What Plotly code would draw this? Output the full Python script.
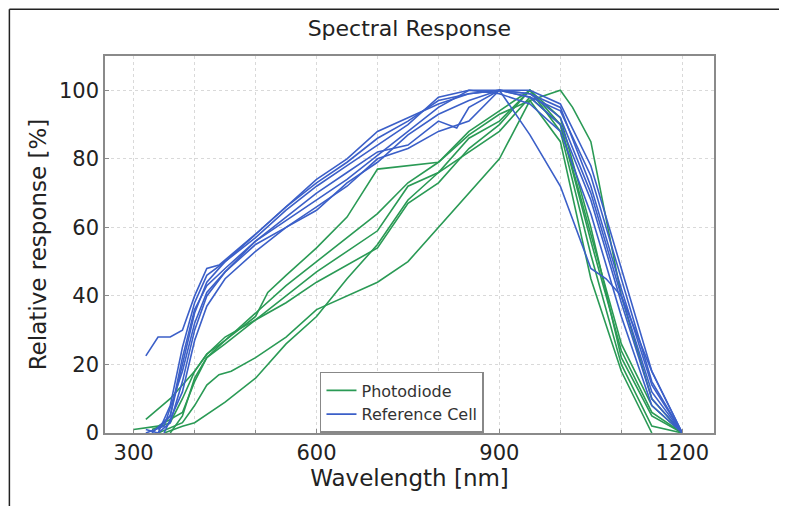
import plotly.graph_objects as go

photodiode_wl = [
    [330, 360, 380, 400, 420, 450, 500, 520, 550, 600, 650, 700, 800, 850, 900, 950, 1000, 1050, 1100, 1150, 1200],
    [300, 340, 380, 400, 420, 450, 500, 550, 600, 650, 700, 750, 800, 850, 900, 950, 1000, 1050, 1100, 1150, 1200],
    [320, 360, 400, 420, 450, 500, 550, 600, 650, 700, 750, 800, 850, 900, 950, 1000, 1050, 1100, 1150, 1200],
    [340, 380, 400, 420, 440, 460, 500, 550, 600, 650, 700, 750, 800, 850, 900, 950, 1000, 1050, 1100, 1150],
    [350, 380, 400, 450, 500, 550, 600, 650, 700, 750, 800, 850, 900, 950, 1000, 1050, 1100, 1150, 1200],
    [360, 380, 400, 420, 450, 500, 550, 600, 650, 700, 750, 800, 850, 900, 950, 1000, 1020, 1050, 1100, 1150, 1200],
]
photodiode_resp = [
    [1, 3, 10, 18, 23, 27, 34, 41, 46, 54, 63, 77, 79, 88, 94, 100, 92, 60, 22, 5, 0],
    [1, 2, 6, 15, 22, 26, 33, 40, 47, 53, 59, 72, 76, 86, 91, 100, 90, 56, 24, 6, 0],
    [4, 10, 18, 23, 28, 33, 38, 44, 49, 54, 67, 73, 83, 90, 100, 88, 52, 20, 2, 0],
    [0, 3, 8, 14, 17, 18, 22, 28, 36, 40, 44, 50, 60, 70, 80, 97, 85, 45, 18, 0],
    [0, 2, 3, 9, 16, 26, 34, 45, 55, 68, 76, 82, 88, 98, 90, 58, 26, 8, 0],
    [0, 5, 16, 22, 27, 35, 43, 50, 57, 64, 73, 79, 87, 93, 97, 100, 95, 85, 40, 10, 0],
]

refcell_wl = [
    [320, 340, 360, 380, 400, 420, 440, 500, 550, 600, 650, 700, 750, 800, 850, 900, 950, 1000, 1050, 1075, 1100, 1150, 1200],
    [320, 340, 360, 380, 400, 420, 450, 500, 550, 600, 650, 700, 750, 800, 850, 900, 950, 1000, 1050, 1100, 1150, 1200],
    [330, 360, 380, 400, 420, 450, 500, 550, 600, 650, 700, 750, 800, 850, 900, 950, 1000, 1050, 1100, 1150, 1200],
    [340, 360, 380, 400, 420, 450, 500, 550, 600, 650, 700, 750, 800, 830, 850, 900, 950, 1000, 1050, 1100, 1150, 1200],
    [350, 380, 400, 420, 450, 500, 550, 600, 650, 700, 750, 800, 850, 900, 950, 1000, 1050, 1100, 1150, 1200],
    [340, 360, 380, 400, 420, 450, 500, 550, 600, 650, 700, 750, 800, 850, 900, 950, 1000, 1050, 1100, 1150, 1200],
    [320, 350, 380, 400, 420, 450, 500, 550, 600, 650, 700, 750, 800, 850, 900, 950, 1000, 1050, 1100, 1150, 1200],
]
refcell_resp = [
    [22.5, 28, 28, 30, 40, 48, 49, 58, 66, 73, 79, 86, 91, 97, 99, 100, 87, 72, 48, 45, 40, 18, 0],
    [1, 0, 8, 25, 38, 46, 50, 57, 65, 72, 78, 84, 90, 98, 100, 100, 99, 92, 70, 40, 12, 0],
    [0, 5, 20, 35, 44, 50, 58, 66, 74, 80, 88, 92, 96, 99, 100, 98, 94, 75, 45, 15, 0],
    [0, 3, 15, 30, 40, 47, 56, 63, 70, 76, 82, 84, 91, 89, 95, 100, 99, 95, 72, 42, 14, 0],
    [0, 12, 27, 37, 45, 53, 60, 65, 73, 79, 87, 93, 97, 100, 98, 90, 68, 38, 10, 0],
    [1, 5, 22, 36, 43, 48, 56, 62, 68, 74, 81, 88, 95, 100, 99, 96, 88, 64, 34, 8, 0],
    [0, 2, 18, 32, 41, 47, 55, 60, 66, 72, 80, 83, 88, 91, 100, 100, 96, 78, 48, 18, 0],
]

green = '#2a9a55'
blue = '#3b5fc8'
font = 'DejaVu Sans'

fig = go.Figure()
for i in range(len(photodiode_wl)):
    fig.add_trace(go.Scatter(x=photodiode_wl[i], y=photodiode_resp[i], mode='lines',
                             line=dict(color=green, width=1.6), name='Photodiode',
                             legendgroup='pd', showlegend=(i == 0)))
for i in range(len(refcell_wl)):
    fig.add_trace(go.Scatter(x=refcell_wl[i], y=refcell_resp[i], mode='lines',
                             line=dict(color=blue, width=1.6), name='Reference Cell',
                             legendgroup='rc', showlegend=(i == 0)))

axisline = dict(showline=True, linecolor='#8a8a8a', linewidth=1.5, mirror=True,
                gridcolor='#d9d9d9', griddash='dot', gridwidth=1, zeroline=False,
                ticks='inside', ticklen=4, tickcolor='#8a8a8a',
                tickfont=dict(family=font, size=21, color='#222'))

# the page has an 8px body margin, so margins are shifted to land the axes where the reference has them
fig.update_layout(
    width=787, height=506,
    paper_bgcolor='white', plot_bgcolor='white',
    margin=dict(l=97, r=81, t=48, b=81),
    title=dict(text='Spectral Response', x=0.51, xanchor='center', y=0.96, yanchor='middle',
               font=dict(family=font, size=22, color='#222')),
    font=dict(family=font, color='#222'),
    legend=dict(x=0.353, y=0.162, xanchor='left', yanchor='top', bgcolor='white',
                bordercolor='#888', borderwidth=1.5, tracegroupgap=0,
                font=dict(family=font, size=16, color='#333')),
    xaxis=dict(axisline, range=[253, 1252], tickvals=[300, 600, 900, 1200],
               minor=dict(dtick=100, tick0=0, showgrid=True, gridcolor='#d9d9d9', griddash='dot',
                          ticks='inside', ticklen=3, tickcolor='#8a8a8a'),
               title=dict(text='Wavelength [nm]', font=dict(family=font, size=23, color='#222'), standoff=4)),
    yaxis=dict(axisline, range=[0, 110], tickvals=[0, 20, 40, 60, 80, 100],
               title=dict(text='Relative response [%]', font=dict(family=font, size=23, color='#222'), standoff=6)),
    shapes=[
        dict(type='line', xref='paper', yref='paper', x0=-0.157, x1=-0.157, y0=-0.25, y1=1.124,
             line=dict(color='#222', width=1.5)),
        dict(type='line', xref='paper', yref='paper', x0=-0.157, x1=1.14, y0=1.124, y1=1.124,
             line=dict(color='#222', width=1.5)),
    ],
)

fig.write_html('out.html')
